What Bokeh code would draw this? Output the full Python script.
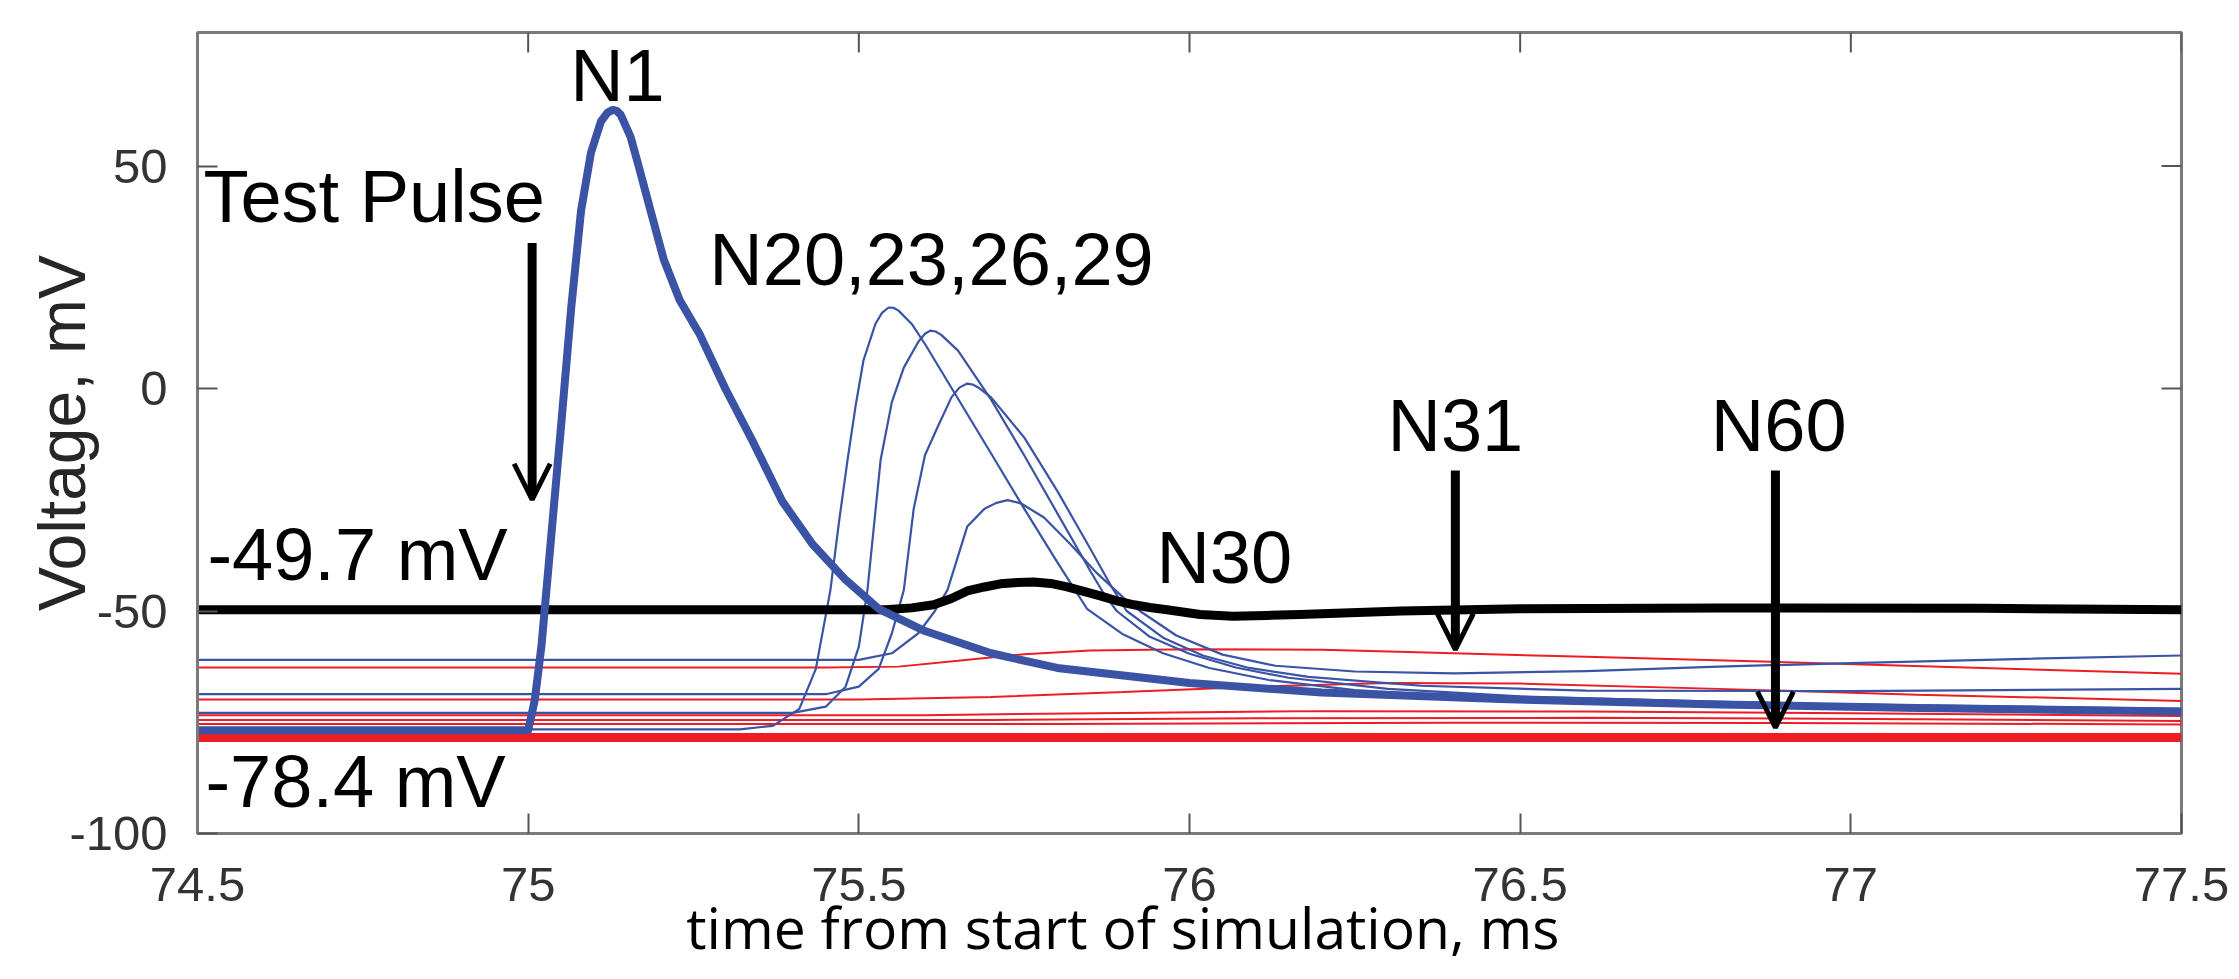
import math
from bokeh.plotting import figure
from bokeh.models import Range1d, FixedTicker, Label, Arrow, OpenHead
from bokeh.embed import file_html
from bokeh.resources import INLINE

# ---------------- data ----------------
x_ticks = [74.5, 75, 75.5, 76, 76.5, 77, 77.5]
x_tick_labels = ["74.5", "75", "75.5", "76", "76.5", "77", "77.5"]
y_ticks = [-100, -50, 0, 50]
y_tick_labels = ["-100", "-50", "0", "50"]

# N1 (thick blue)
n1_t = [74.5, 75.0, 75.01, 75.02, 75.035, 75.05, 75.065, 75.08, 75.095, 75.11, 75.12, 75.128, 75.134,
        75.14, 75.155, 75.167, 75.185, 75.205, 75.229, 75.26, 75.298, 75.34, 75.384, 75.43, 75.48,
        75.53, 75.6, 75.7, 75.8, 76.0, 76.2, 76.47, 76.8, 77.1, 77.5]
n1_v = [-76.8, -76.8, -70, -58, -33, -8, 18, 40, 53, 60, 62.0, 62.6, 62.4,
        61.5, 56.5, 50, 40, 29, 19.9, 12, 0, -12, -25.3, -35, -43,
        -49.5, -54.5, -59.5, -62.8, -66.2, -68.3, -69.8, -71, -71.8, -72.6]

# N20 (thin blue)
n20_t = [74.5, 75.32, 75.37, 75.41, 75.435, 75.457, 75.47, 75.483, 75.495, 75.507, 75.525, 75.535,
         75.545, 75.553, 75.56, 75.58, 75.60, 75.65, 75.70, 75.75, 75.80, 75.845, 75.90, 75.96,
         76.03, 76.12, 76.25, 76.45, 76.8, 77.2, 77.5]
n20_v = [-76.6, -76.6, -75.8, -72, -63, -45.3, -30, -16, -4, 6.3, 14.5, 17.0,
         18.2, 18.1, 17.5, 14.5, 10, -2.3, -14.6, -27, -39, -49.5, -55.3, -59.5,
         -62.8, -65.5, -67.8, -69.6, -71.0, -71.9, -72.4]

# N23 (thin blue)
n23_t = [74.5, 75.40, 75.45, 75.48, 75.50, 75.513, 75.533, 75.55, 75.568, 75.59, 75.60, 75.608,
         75.616, 75.625, 75.65, 75.70, 75.75, 75.80, 75.85, 75.87, 75.89, 75.94, 76.0, 76.07, 76.15,
         76.3, 76.5, 76.9, 77.3, 77.5]
n23_v = [-72.9, -72.9, -71.5, -67, -58, -45.3, -16, -3, 4.7, 10.5, 12.3, 13.0,
         12.8, 12, 8.5, -2.5, -15, -28, -41, -46, -50, -55.8, -59.6, -62.7, -65,
         -67.5, -69.2, -70.8, -71.6, -72.0]

# N26 (thin blue)
n26_t = [74.5, 75.45, 75.50, 75.53, 75.55, 75.568, 75.583, 75.60, 75.619, 75.64, 75.652, 75.664,
         75.672, 75.68, 75.70, 75.75, 75.80, 75.85, 75.88, 75.905, 75.96, 76.02, 76.09, 76.18, 76.35,
         76.6, 77.0, 77.5]
n26_v = [-68.7, -68.7, -67, -63, -55, -45.3, -27, -15, -8.7, -2, 0.2, 1.1,
         0.9, 0.3, -2, -11, -23, -36, -44, -50, -56, -60, -62.8, -64.8, -66.8,
         -67.9, -68.0, -67.5]

# N29 (thin blue)
n29_t = [74.5, 75.50, 75.55, 75.59, 75.615, 75.634, 75.664, 75.69, 75.708, 75.725, 75.745, 75.78,
         75.82, 75.86, 75.90, 75.925, 75.98, 76.05, 76.13, 76.25, 76.4, 76.6, 76.8, 77.0, 77.25, 77.5]
n29_v = [-61.0, -61.0, -59.5, -55, -50, -45.3, -31, -27, -25.7, -25.1, -25.8, -29,
         -35, -41.5, -47, -50, -55.5, -59.8, -62.3, -63.6, -64.0, -63.5, -62.5, -61.7, -60.8, -60.0]

# N30 (black)
n30_t = [74.5, 75.54, 75.58, 75.613, 75.64, 75.664, 75.69, 75.714, 75.74, 75.764, 75.79, 75.815,
         75.84, 75.865, 75.89, 75.916, 75.94, 75.966, 76.016, 76.066, 76.117, 76.167, 76.32, 76.5,
         76.8, 77.2, 77.5]
n30_v = [-49.7, -49.7, -49.3, -48.6, -47.2, -45.5, -44.6, -43.9, -43.6, -43.5, -43.8, -44.6,
         -45.6, -46.6, -47.7, -48.6, -49.2, -49.7, -50.8, -51.2, -51.0, -50.8, -50.0, -49.5,
         -49.3, -49.4, -49.7]

# other neurons (thin red)
r1_t = [74.5, 75.45, 75.56, 75.65, 75.75, 75.85, 76.0, 76.2, 76.33, 76.6, 76.88, 77.2, 77.5]
r1_v = [-62.7, -62.7, -62.5, -61.2, -59.7, -58.9, -58.6, -58.7, -59.2, -60.3, -61.4, -62.8, -64.1]
r2_t = [74.5, 75.5, 75.7, 75.9, 76.1, 76.3, 76.5, 76.8, 77.1, 77.5]
r2_v = [-69.9, -69.9, -69.3, -68.2, -67.0, -66.2, -66.3, -67.5, -68.8, -70.2]
r3_t = [74.5, 75.6, 75.9, 76.2, 76.6, 77.0, 77.5]
r3_v = [-73.4, -73.4, -72.9, -72.5, -72.6, -73.0, -73.6]
r4_t = [74.5, 75.7, 76.1, 76.6, 77.1, 77.5]
r4_v = [-74.5, -74.5, -74.1, -74.0, -74.3, -74.7]
r5_t = [74.5, 75.8, 76.4, 77.0, 77.5]
r5_v = [-75.4, -75.4, -75.1, -75.2, -75.5]
# N60 (thick red)
n60_t = [74.5, 77.5]
n60_v = [-78.4, -78.4]

# annotations
label_texts = ["N1", "Test Pulse", "N20,23,26,29", "N30", "N31", "N60", "-49.7 mV", "-78.4 mV"]
label_x = [75.135, 74.509, 75.274, 75.950, 76.402, 76.891, 74.515, 74.512]
label_y = [70.3, 43.2, 29.1, -38.0, -8.4, -8.4, -37.3, -88.4]
label_align = ["center", "left", "left", "left", "center", "center", "left", "left"]

arrow_x = [75.006, 76.402, 76.886]
arrow_y_start = [32.7, -18.4, -18.4]
arrow_y_end = [-25.0, -58.7, -76.2]

x_title = "time from start of simulation, ms"
y_title = "Voltage, mV"

BLUE = "#3A53A4"
RED = "#EE1C25"
AX = "#7a7a7a"
TICK = "#555555"

p = figure(width=2239, height=979, x_range=Range1d(74.5, 77.5), y_range=Range1d(-100, 80),
           output_backend="svg", toolbar_location=None,
           min_border_left=197, min_border_right=58, min_border_top=32, min_border_bottom=146)
p.background_fill_color = "white"
p.border_fill_color = "white"
p.xgrid.visible = False
p.ygrid.visible = False
p.outline_line_color = AX
p.outline_line_width = 3

for ax, ticks, labs in ((p.xaxis[0], x_ticks, x_tick_labels), (p.yaxis[0], y_ticks, y_tick_labels)):
    ax.ticker = FixedTicker(ticks=ticks)
    ax.major_label_overrides = {t: l for t, l in zip(ticks, labs)}
    ax.major_tick_in = 20
    ax.major_tick_out = 0
    ax.minor_tick_line_color = None
    ax.major_tick_line_color = TICK
    ax.major_tick_line_width = 2
    ax.axis_line_color = AX
    ax.axis_line_width = 3
    ax.major_label_text_font = "Liberation Sans"
    ax.major_label_text_font_size = "49px"
    ax.major_label_text_color = "#333333"
p.xaxis[0].major_label_standoff = 34
p.yaxis[0].major_label_standoff = 30
p.yaxis[0].major_label_orientation = "horizontal"

p.yaxis[0].axis_label = y_title
p.yaxis[0].axis_label_text_font = "Liberation Sans"
p.yaxis[0].axis_label_text_font_size = "66px"
p.yaxis[0].axis_label_text_font_style = "normal"
p.yaxis[0].axis_label_text_color = "#262626"
p.yaxis[0].axis_label_standoff = -33

# trailing no-break spaces shift the centred title left, as in the original
p.xaxis[0].axis_label = x_title + "\u00a0" * 9
p.xaxis[0].axis_label_text_font = "Open Sans"
p.xaxis[0].axis_label_text_font_size = "57px"
p.xaxis[0].axis_label_text_font_style = "normal"
p.xaxis[0].axis_label_text_color = "black"
p.xaxis[0].axis_label_standoff = -16

# mirrored inward ticks on the top and right edges of the box
p.ray(x=x_ticks, y=[80] * len(x_ticks), length=20, length_units="screen", angle=-math.pi / 2,
      line_color=TICK, line_width=2)
p.ray(x=[77.5] * len(y_ticks), y=y_ticks, length=20, length_units="screen", angle=math.pi,
      line_color=TICK, line_width=2)

# traces
for t, v in ((r1_t, r1_v), (r2_t, r2_v), (r3_t, r3_v), (r4_t, r4_v), (r5_t, r5_v)):
    p.line(t, v, line_color=RED, line_width=2)
p.line(n60_t, n60_v, line_color=RED, line_width=9)
for t, v in ((n20_t, n20_v), (n23_t, n23_v), (n26_t, n26_v), (n29_t, n29_v)):
    p.line(t, v, line_color=BLUE, line_width=2.2, line_join="round")
p.line(n30_t, n30_v, line_color="black", line_width=9, line_join="round")
p.line(n1_t, n1_v, line_color=BLUE, line_width=8, line_join="round")

for xa, ys, ye in zip(arrow_x, arrow_y_start, arrow_y_end):
    p.add_layout(Arrow(end=OpenHead(size=36, line_width=5, line_color="black"),
                       x_start=xa, y_start=ys, x_end=xa, y_end=ye,
                       line_width=9, line_color="black"))

for txt, lx, ly, al in zip(label_texts, label_x, label_y, label_align):
    p.add_layout(Label(x=lx, y=ly, text=txt, text_font="Liberation Sans", text_font_size="74px",
                       text_align=al, text_baseline="alphabetic", text_color="black"))

open("out.html", "w").write(file_html(p, INLINE))
